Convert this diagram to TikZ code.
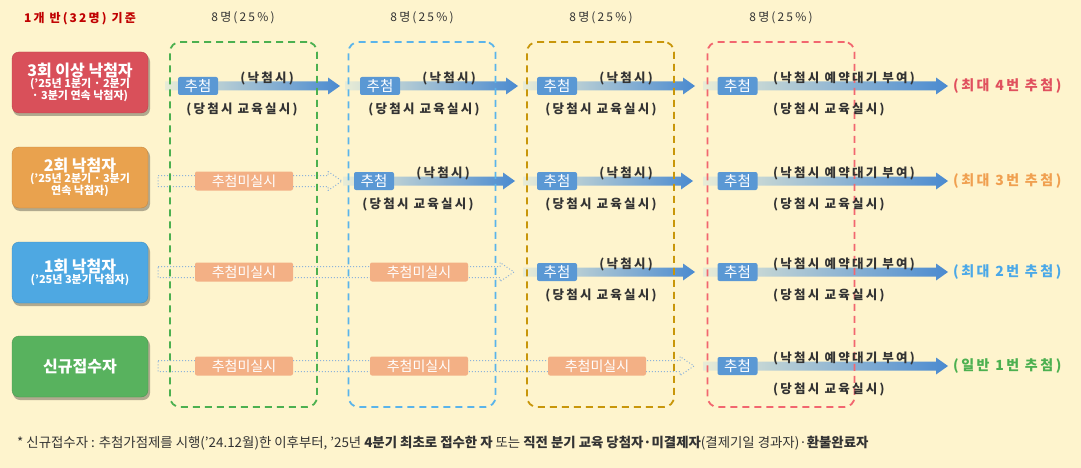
\documentclass[tikz,border=0pt]{standalone}
\usepackage{fontspec}
\setmainfont{Noto Sans CJK KR}
\newfontfamily\ls[LetterSpace=18]{Noto Sans CJK KR}
\usetikzlibrary{shadows}
\definecolor{bg}{HTML}{FEF4CD}
\definecolor{fg}{HTML}{333333}
\definecolor{cred}{HTML}{D9505A}
\definecolor{corange}{HTML}{E9A24E}
\definecolor{cblue}{HTML}{4EA8E2}
\definecolor{cgreen}{HTML}{58B25E}
\definecolor{dgreen}{HTML}{4CB050}
\definecolor{dblue}{HTML}{5AB4EA}
\definecolor{dgold}{HTML}{C8960A}
\definecolor{dred}{HTML}{F2666F}
\definecolor{chublue}{HTML}{5A98D4}
\definecolor{peach}{HTML}{F3B085}
\definecolor{arrowL}{HTML}{E8ECD6}
\definecolor{arrowR}{HTML}{4A8AD0}
\definecolor{hollowc}{HTML}{8DB3DA}
\definecolor{titlered}{HTML}{C00000}
\definecolor{endred}{HTML}{E0505E}
\definecolor{endorange}{HTML}{F0A050}
\definecolor{endblue}{HTML}{4AA8E8}
\definecolor{endgreen}{HTML}{4CB050}
\newcommand\SArr[3]{\shade[left color=arrowL, right color=arrowR]
  (#1,#3-4.5) -- (#2-12,#3-4.5) -- (#2-12,#3-8.5) -- (#2,#3) -- (#2-12,#3+8.5) -- (#2-12,#3+4.5) -- (#1,#3+4.5) -- cycle;}
\newcommand\HArr[3]{\draw[hollowc, dotted, line width=1pt, line join=round]
  (#1,#3-5.5) -- (#2-14,#3-5.5) -- (#2-14,#3-9.5) -- (#2,#3) -- (#2-14,#3+9.5) -- (#2-14,#3+5.5) -- (#1,#3+5.5) -- cycle;}
\newcommand\BigT{\fontsize{16}{19}\bfseries\selectfont}
\newcommand\SmallT{\fontsize{11}{12}\bfseries\selectfont}
\begin{document}
\begin{tikzpicture}[x=1pt,y=-1pt,
  cat/.style={rounded corners=7pt, minimum width=136pt, minimum height=61pt, text=white, align=center, inner sep=0pt},
  dbox/.style={draw, dash pattern=on 7pt off 5pt, line width=1.8pt, rounded corners=10pt, minimum width=147pt, minimum height=365pt, inner sep=0pt},
  chu/.style={fill=chublue, text=white, rounded corners=2pt, minimum width=40pt, minimum height=18pt, inner sep=0pt, font=\fontsize{14.5}{15}\selectfont},
  nochu/.style={fill=peach, text=white, rounded corners=2pt, minimum width=98pt, minimum height=19pt, inner sep=0pt, font=\fontsize{14}{15}\selectfont},
  lab/.style={text=fg, inner sep=0pt, font=\ls\bfseries\fontsize{12.5}{13}\selectfont},
  endlab/.style={inner sep=0pt, anchor=west, font=\ls\bfseries\fontsize{14}{15}\selectfont},
  shd/.style={fill=black, opacity=0.3, rounded corners=7pt},
]
\fill[bg] (0,0) rectangle (1081,468);
\useasboundingbox (0,0) rectangle (1081,468);

% titles
\node[text=titlered, inner sep=0pt, font=\ls\bfseries\fontsize{12}{13}\selectfont] (ttl) at (80,19) {1개 반(32명) 기준};
\foreach \x/\n in {243/p1, 422/p2, 601/p3, 781/p4}
  \node[lab, font=\ls\fontsize{12}{13}\selectfont] (\n) at (\x,18) {8명(25\%)};

% category box shadows
\foreach \cy in {82.5,177.5,272.5,366.5}
  \fill[shd] (13,\cy-28) rectangle (150,\cy+33.5);

% category boxes
\node[cat, fill=cred, draw=cred!85!black] (r1) at (80,82.5) {\BigT 3회 이상 낙첨자\\[-1pt]\SmallT ('25년 1분기 · 2분기\\\SmallT · 3분기 연속 낙첨자)};
\node[cat, fill=corange, draw=corange!85!black] (r2) at (80,177.5) {\BigT 2회 낙첨자\\[-1pt]\SmallT ('25년 2분기 · 3분기\\\SmallT 연속 낙첨자)};
\node[cat, fill=cblue, draw=cblue!85!black] (r3) at (80,272.5) {\BigT 1회 낙첨자\\[-1pt]\SmallT ('25년 3분기 낙첨자)};
\node[cat, fill=cgreen, draw=cgreen!85!black] (r4) at (80,366.5) {\BigT 신규접수자};

% hollow (not drawn) arrows
\HArr{158}{342}{181}
\HArr{158}{514}{272}
\HArr{158}{694}{366}
\node[nochu] (n21) at (244,181) {추첨미실시};
\node[nochu] (n31) at (244,272) {추첨미실시};
\node[nochu] (n32) at (419,272) {추첨미실시};
\node[nochu] (n41) at (244,366) {추첨미실시};
\node[nochu] (n42) at (419,366) {추첨미실시};
\node[nochu] (n43) at (597,366) {추첨미실시};

% solid arrows
\SArr{165}{340}{86}
\SArr{345}{518}{86}
\SArr{523}{695}{86}
\SArr{703}{948}{86}
\SArr{343}{515}{181}
\SArr{523}{693}{181}
\SArr{703}{948}{181}
\SArr{523}{695}{272}
\SArr{703}{948}{272}
\SArr{703}{948}{366}

% dashed columns
\node[dbox, dgreen] (g1) at (243.5,224.5) {};
\node[dbox, dblue] (g2) at (422,224.5) {};
\node[dbox, dgold] (g3) at (600.5,224.5) {};
\node[dbox, dred] (g4) at (781,224.5) {};

% draw boxes and labels
\foreach \cx/\y/\n in {198/86/c11, 380/86/c12, 557/86/c13, 374/181/c22, 557/181/c23, 557/272/c33}{
  \node[chu] (\n) at (\cx,\y) {추첨};
  \node[lab] at (\cx+69,\y-8) {(낙첨시)};
  \node[lab] at (\cx+44,\y+23) {(당첨시 교육실시)};
}
\foreach \y/\n in {86/c14, 181/c24, 272/c34, 366/c44}{
  \node[chu] (\n) at (737.5,\y) {추첨};
  \node[lab, anchor=west] at (773,\y-8) {(낙첨시 예약대기 부여)};
  \node[lab, anchor=west] at (773,\y+23) {(당첨시 교육실시)};
}
\node[endlab, text=endred] (e1) at (953,86) {(최대 4번 추첨)};
\node[endlab, text=endorange] (e2) at (953,181) {(최대 3번 추첨)};
\node[endlab, text=endblue] (e3) at (953,272) {(최대 2번 추첨)};
\node[endlab, text=endgreen] (e4) at (953,366) {(일반 1번 추첨)};

% footnote
\node[anchor=west, text=fg, inner sep=0pt, font=\fontsize{13.4}{15}\selectfont] (fn) at (17,443)
  {* 신규접수자 : 추첨가점제를 시행('24.12월)한 이후부터, '25년 \textbf{4분기 최초로 접수한 자} 또는 \textbf{직전 분기 교육 당첨자·미결제자}(결제기일 경과자)·\textbf{환불완료자}};
\end{tikzpicture}
\end{document}
